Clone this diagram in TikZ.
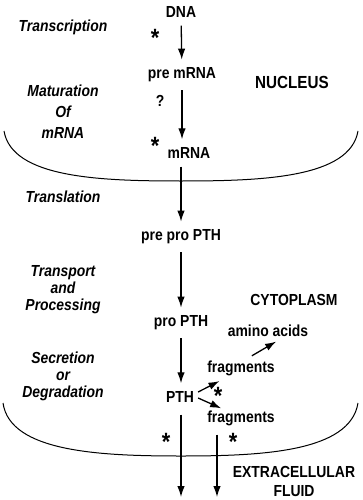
\documentclass[tikz,border=0pt]{standalone}
\usepackage{fontspec}
\setmainfont[FakeStretch=0.87]{Liberation Sans}
\usetikzlibrary{arrows.meta}

\tikzset{
  lbl/.style={font=\bfseries\fontsize{16}{20}\selectfont, inner sep=4pt},
  stage/.style={font=\bfseries\itshape\fontsize{16}{17}\selectfont, align=center},
  star/.style={font=\bfseries\fontsize{25}{25}\selectfont, inner sep=0pt},
  arr/.style={line width=1.3pt, -{Latex[length=11pt,width=7.5pt]}, shorten <=4pt, shorten >=4pt},
  memb/.style={line width=1pt}
}

\begin{document}
\begin{tikzpicture}[x=1pt,y=-1pt]
\useasboundingbox (0,0) rectangle (362,500);

% membranes
\draw[memb] (4,131) .. controls (12,178) and (100,181) .. (181,181)
  .. controls (262,181) and (350,178) .. (358,131);
\draw[memb] (3,403) .. controls (10,452) and (100,456) .. (181,456)
  .. controls (262,456) and (350,452) .. (358,403);

% main chain
\node[lbl] (dna) at (181,12) {DNA};
\node[lbl] (premrna) at (182,75) {pre mRNA};
\node[lbl] (mrna) at (189,153) {mRNA};
\node[lbl] (prepro) at (181,237) {pre pro PTH};
\node[lbl] (pro) at (181,323) {pro PTH};
\node[lbl] (pth) at (180,397) {PTH};
\node[lbl] (fragu) at (241,368) {fragments};
\node[lbl] (fragl) at (241,418) {fragments};
\node[lbl] (amino) at (268,331) {amino acids};

% compartments
\node[lbl, font=\bfseries\fontsize{17.5}{20}\selectfont] (nucleus) at (292,82) {NUCLEUS};
\node[lbl] (cyto) at (294,300) {CYTOPLASM};
\node[lbl, align=center, font=\bfseries\fontsize{16}{19}\selectfont] (ecf) at (294,481) {EXTRACELLULAR\\FLUID};

% stages
\node[stage] (transc) at (63,27) {Transcription};
\node[stage, font=\bfseries\itshape\fontsize{16}{21}\selectfont] (matur) at (63,112) {Maturation\\Of\\mRNA};
\node[stage] (transl) at (63,197) {Translation};
\node[stage] (transp) at (63,290) {Transport\\and\\Processing};
\node[stage] (secr) at (63,376) {Secretion\\or\\Degradation};

% marks
\node[star] (s1) at (155,38) {*};
\node[lbl] (q) at (160,101) {?};
\node[star] (s2) at (155,146) {*};
\node[star] (s3) at (218,396) {*};
\node[star] (s4) at (166,442) {*};
\node[star] (s5) at (233,442) {*};

\coordinate (outa) at (181,497);
\coordinate (outb) at (217,497);

\draw[arr] (dna) -- (premrna);
\draw[arr] (premrna) -- (premrna |- mrna.north);
\draw[arr] (prepro |- mrna.south) -- (prepro);
\draw[arr] (prepro) -- (pro);
\draw[arr] (pro) -- (pro |- pth.north);
\draw[arr, shorten <=8pt, shorten >=0pt] (pro |- pth.south) -- (outa);
\draw[arr, shorten <=5pt, shorten >=0pt] (outb |- fragl.south) -- (outb);
\draw[arr, shorten <=0pt, shorten >=3pt] (pth.east) ++(0,-5) -- ([xshift=19pt]fragu.south west);
\draw[arr, shorten <=0pt, shorten >=0pt] (pth.east) ++(0,1) -- ([xshift=18pt,yshift=-2pt]fragl.north west);
\draw[arr, shorten <=1pt, shorten >=1pt] ([xshift=10pt]fragu.north) -- ([xshift=9pt]amino.south);
\end{tikzpicture}
\end{document}
